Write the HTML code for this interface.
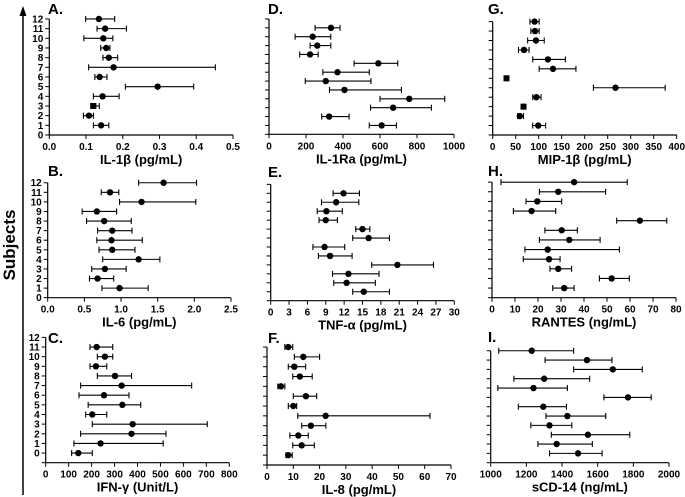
<!DOCTYPE html>
<html><head><meta charset="utf-8"><style>
body{margin:0;background:#fff;}
svg{display:block;font-family:"Liberation Sans",Arial,sans-serif;}
</style></head><body>
<svg id="chart" width="685" height="497" viewBox="0 0 685 497" xmlns="http://www.w3.org/2000/svg">
<g>
<line x1="23" y1="495" x2="23" y2="14" stroke="#000" stroke-width="1.5"/>
<polygon points="23,6 19.5,16 26.5,16" fill="#000"/>
<text x="0" y="0" transform="translate(15,245) rotate(-90)" text-anchor="middle" font-size="17" font-weight="bold">Subjects</text>
</g>
</svg>
<script>
// values ordered subject 12 down to 1
const subjects = [12,11,10,9,8,7,6,5,4,3,2,1];
const aMean=[0.135,0.152,0.147,0.155,0.162,0.175,0.137,0.295,0.145,0.120,0.108,0.141];
const aLo=[0.099,0.130,0.094,0.140,0.146,0.107,0.124,0.207,0.120,0.113,0.093,0.120];
const aHi=[0.178,0.210,0.173,0.165,0.186,0.452,0.157,0.393,0.190,0.136,0.120,0.162];
const aTicks=["0.0","0.1","0.2","0.3","0.4","0.5"];
const bMean=[1.58,0.85,1.28,0.67,0.77,0.88,0.87,0.88,1.24,0.78,0.68,0.98];
const bLo=[1.24,0.73,0.98,0.47,0.53,0.68,0.67,0.70,0.75,0.60,0.57,0.74];
const bHi=[2.03,0.97,2.02,0.94,1.14,1.15,1.29,1.19,1.53,1.07,0.90,1.37];
const bTicks=["0.0","0.5","1.0","1.5","2.0","2.5"];
const cMean=[222,258,219,302,331,254,334,203,379,374,239,142];
const cLo=[193,225,193,225,152,145,185,174,203,152,123,113];
const cHi=[292,292,266,374,636,363,414,266,704,524,512,203];
const cTicks=["0","100","200","300","400","500","600","700","800"];
const dMean=[335,236,261,222,591,370,307,408,758,671,325,609];
const dLo=[249,141,222,166,460,291,196,327,600,549,285,542];
const dHi=[384,334,334,266,696,542,551,716,950,878,433,689];
const dTicks=["0","200","400","600","800","1000"];
const eMean=[11.9,10.7,9.1,9.0,15.0,16.0,8.8,9.7,20.7,12.7,12.4,15.2];
const eLo=[10.2,8.3,7.6,7.9,13.9,13.4,6.9,7.8,16.5,10.1,10.3,13.4];
const eHi=[14.5,14.4,11.7,10.9,16.2,19.4,12.1,13.3,26.6,17.7,17.1,19.4];
const eTicks=["0","3","6","9","12","15","18","21","24","27","30"];
const fMean=[8.1,13.8,10.4,12.5,5.3,14.8,10.0,22.3,16.7,11.9,13.2,8.1];
const fLo=[6.8,10.4,8.1,9.8,4.1,10.0,8.1,11.7,13.2,8.7,9.8,7.2];
const fHi=[9.8,20.0,14.7,17.2,6.8,18.9,11.3,62.0,22.4,15.7,18.0,9.6];
const fTicks=["0","10","20","30","40","50","60","70"];
const gMean=[91,92,94,68,120,131,30,267,95,67,59,99];
const gLo=[81,83,76,56,87,101,30,219,87,67,54,87];
const gHi=[101,101,112,79,158,181,30,375,105,67,67,115];
const gTicks=["0","50","100","150","200","250","300","350","400"];
const hMean=[35.7,28.8,19.7,17.2,64.3,30.3,33.6,24.2,24.8,28.8,52.0,31.4];
const hLo=[3.9,20.6,14.8,9.3,54.2,23.0,20.6,14.3,13.6,25.2,46.7,26.4];
const hHi=[58.8,49.4,30.3,27.7,76.0,37.1,47.0,55.4,29.6,34.6,59.7,35.7];
const hTicks=["0","10","20","30","40","50","60","70","80"];
const iMean=[1230,1540,1685,1300,1240,1770,1295,1430,1330,1545,1370,1490];
const iLo=[1045,1305,1465,1130,1040,1635,1155,1310,1225,1340,1265,1330];
const iHi=[1465,1680,1850,1555,1430,1900,1425,1645,1455,1780,1570,1625];
const iTicks=["1000","1200","1400","1600","1800","2000"];

const NS="http://www.w3.org/2000/svg";
const svg=document.getElementById('chart');
function mk(tag,attrs,parent){const e=document.createElementNS(NS,tag);for(const k in attrs)e.setAttribute(k,attrs[k]);parent.appendChild(e);return e;}

const panels=[
 {id:'a',letter:'A.',title:'IL-1β (pg/mL)',mean:aMean,lo:aLo,hi:aHi,ticks:aTicks,x0:49.3,x1:233,y0:135,step:9.67,ymax:12,labels:true,lx:48,ly:14,shift:0},
 {id:'b',letter:'B.',title:'IL-6 (pg/mL)',mean:bMean,lo:bLo,hi:bHi,ticks:bTicks,x0:47.7,x1:231,y0:297.7,step:9.58,ymax:12,labels:true,lx:48,ly:176,shift:0},
 {id:'c',letter:'C.',title:'IFN-γ (Unit/L)',mean:cMean,lo:cLo,hi:cHi,ticks:cTicks,x0:45.7,x1:229.3,y0:462.7,step:9.64,ymax:13,labels:true,lx:48,ly:343,shift:1},
 {id:'d',letter:'D.',title:'IL-1Ra (pg/mL)',mean:dMean,lo:dLo,hi:dHi,ticks:dTicks,x0:269,x1:454,y0:134.3,step:8.87,ymax:13,labels:false,lx:268,ly:14,shift:0},
 {id:'e',letter:'E.',title:'TNF-α (pg/mL)',mean:eMean,lo:eLo,hi:eHi,ticks:eTicks,x0:270.7,x1:454.3,y0:300.7,step:8.95,ymax:13,labels:false,lx:268,ly:177,shift:0},
 {id:'f',letter:'F.',title:'IL-8 (pg/mL)',mean:fMean,lo:fLo,hi:fHi,ticks:fTicks,x0:267,x1:451,y0:465,step:9.83,ymax:12,labels:false,lx:268,ly:343,shift:0},
 {id:'g',letter:'G.',title:'MIP-1β (pg/mL)',mean:gMean,lo:gLo,hi:gHi,ticks:gTicks,x0:492.7,x1:676.7,y0:135,step:9.45,ymax:12,labels:false,lx:488,ly:14,shift:0,squares:[6,3]},
 {id:'h',letter:'H.',title:'RANTES (ng/mL)',mean:hMean,lo:hLo,hi:hHi,ticks:hTicks,x0:492,x1:676,y0:297.7,step:9.63,ymax:12,labels:false,lx:488,ly:176,shift:0},
 {id:'i',letter:'I.',title:'sCD-14 (ng/mL)',mean:iMean,lo:iLo,hi:iHi,ticks:iTicks,x0:490.7,x1:669,y0:462.7,step:9.33,ymax:12,labels:false,lx:488,ly:342,shift:0}
];
const squaresA=[3];

panels.forEach(p=>{
 const g=mk('g',{},svg);
 
 
 const tmin=parseFloat(p.ticks[0]),tmax=parseFloat(p.ticks[p.ticks.length-1]);
 const xs=v=>p.x0+(v-tmin)/(tmax-tmin)*(p.x1-p.x0);
 const ys=v=>p.y0-v*p.step;
 const ytop=ys(p.ymax);
 const lt=mk('text',{x:p.lx,y:p.ly,'font-size':15,'font-weight':'bold'},g);
 lt.textContent=p.letter;
 
 
 mk('line',{x1:p.x0,y1:ytop,x2:p.x0,y2:p.y0,stroke:'#000','stroke-width':1.2},g);
 mk('line',{x1:p.x0,y1:p.y0,x2:p.x1,y2:p.y0,stroke:'#000','stroke-width':1.2},g);
 for(let v=0;v<=p.ymax;v++){
  mk('line',{x1:p.x0-4,y1:ys(v),x2:p.x0,y2:ys(v),stroke:'#000','stroke-width':1},g);
  if(p.labels && v-p.shift>=0){
   const t=mk('text',{x:p.x0-6,y:ys(v)+3.5,'font-size':10,'font-weight':'bold','text-anchor':'end'},g);
   t.textContent=String(v-p.shift);
   
   
  }
 }
 p.ticks.forEach(tk=>{
  const x=xs(parseFloat(tk));
  mk('line',{x1:x,y1:p.y0,x2:x,y2:p.y0+4,stroke:'#000','stroke-width':1},g);
  const t=mk('text',{x:x,y:p.y0+15,'font-size':10,'font-weight':'bold','text-anchor':'middle'},g);
  t.textContent=tk;
  
  
 });
 const tt=mk('text',{x:(p.x0+p.x1)/2,y:p.y0+29,'font-size':13,'font-weight':'bold','text-anchor':'middle'},g);
 tt.textContent=p.title;
 
 
 const sq=p.id==='a'?squaresA:(p.squares||[]);
 subjects.forEach((s,i)=>{
  const y=ys(s);
  const e=mk('g',{},g);
  
  
  const xl=xs(p.lo[i]),xh=xs(p.hi[i]),xm=xs(p.mean[i]);
  mk('line',{x1:xl,y1:y,x2:xh,y2:y,stroke:'#000','stroke-width':1.1},e);
  mk('line',{x1:xl,y1:y-3,x2:xl,y2:y+3,stroke:'#000','stroke-width':1.1},e);
  mk('line',{x1:xh,y1:y-3,x2:xh,y2:y+3,stroke:'#000','stroke-width':1.1},e);
  if(sq.indexOf(s)>=0) mk('rect',{x:xm-3,y:y-3,width:6,height:6,fill:'#000'},e);
  else mk('circle',{cx:xm,cy:y,r:3.2,fill:'#000'},e);
 });
});
</script>
</body></html>
